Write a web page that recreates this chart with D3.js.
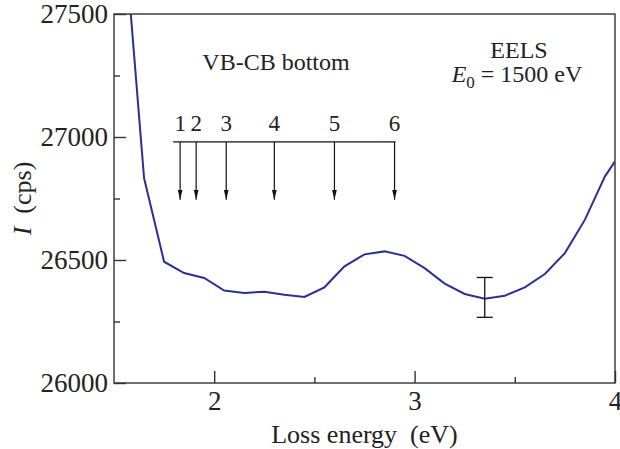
<!DOCTYPE html>
<html>
<head>
<meta charset="utf-8">
<script src="https://cdn.jsdelivr.net/npm/d3@7.9.0/dist/d3.min.js"></script>
<style>
  body { margin: 0; background: #fff; }
  svg text { font-family: 'Liberation Serif', 'Times New Roman', serif; fill: #222; white-space: pre; }
</style>
</head>
<body>
<div id="chart"></div>
<script>
// EELS spectrum
const energies = [1.55, 1.65, 1.75, 1.85, 1.95, 2.05, 2.15, 2.25, 2.35, 2.45, 2.55, 2.65, 2.75,
    2.85, 2.95, 3.05, 3.15, 3.25, 3.35, 3.45, 3.55, 3.65, 3.75, 3.85, 3.95, 4.0];
const counts = [27840, 26833, 26493, 26447, 26427, 26376, 26366, 26371, 26359, 26350, 26389, 26474, 26523,
    26535, 26517, 26467, 26404, 26362, 26343, 26355, 26389, 26443, 26528, 26664, 26840, 26901];

// VB-CB bottom markers
const markerEnergies = [1.83, 1.91, 2.06, 2.30, 2.60, 2.90];
const markerLabels = ['1', '2', '3', '4', '5', '6'];

// error bar
const errEnergy = 3.35;
const errCenter = 26348;
const errHalf = 81;

const xTicks = [2, 3, 4];
const xMinor = [2.5, 3.5];
const yTicks = [26000, 26500, 27000, 27500];
const yMinor = [26250, 26750, 27250];

const width = 620;
const height = 449;
const margin = { top: 14, right: 5, bottom: 66, left: 114 };
const serif = "'Liberation Serif', 'Times New Roman', serif";

const xScale = d3.scaleLinear().domain([1.5, 4]).range([margin.left, width - margin.right]);
const yScale = d3.scaleLinear().domain([26000, 27500]).range([height - margin.bottom, margin.top]);

const svg = d3.select('#chart').append('svg')
    .attr('width', width)
    .attr('height', height);

svg.append('defs').append('clipPath').attr('id', 'plot-clip')
    .append('rect')
    .attr('x', xScale(1.5)).attr('y', yScale(27500))
    .attr('width', xScale(4) - xScale(1.5))
    .attr('height', yScale(26000) - yScale(27500));

svg.append('defs').append('marker')
    .attr('id', 'arrowhead')
    .attr('viewBox', '0 0 10 10')
    .attr('refX', 10).attr('refY', 5)
    .attr('markerWidth', 10).attr('markerHeight', 10)
    .attr('markerUnits', 'userSpaceOnUse')
    .attr('orient', 'auto')
    .append('path')
    .attr('d', 'M0,2.6 L10,5 L0,7.4 Z')
    .attr('fill', '#111');

const axisColor = '#333';

// axes (ticks point inward)
const yAxis = d3.axisLeft(yScale).tickValues(yTicks).tickSize(-12).tickPadding(6)
    .tickFormat(d3.format('d'));
const yAxisMinor = d3.axisLeft(yScale).tickValues(yMinor).tickSize(-6).tickFormat('');
const xAxis = d3.axisBottom(xScale).tickValues(xTicks).tickSize(-12).tickPadding(8)
    .tickFormat(d3.format('d'));
const xAxisMinor = d3.axisBottom(xScale).tickValues(xMinor).tickSize(-6).tickFormat('');

function styleAxis(g) {
    g.attr('font-family', serif).attr('font-size', 27);
    g.select('.domain').remove();
    g.selectAll('line').attr('stroke', axisColor).attr('stroke-width', 1.4);
    g.selectAll('text').attr('fill', '#222').style('font-family', serif);
}

svg.append('g').attr('transform', `translate(${margin.left},0)`).call(yAxis).call(styleAxis);
svg.append('g').attr('transform', `translate(${margin.left},0)`).call(yAxisMinor).call(styleAxis);
svg.append('g').attr('transform', `translate(0,${height - margin.bottom})`).call(xAxis).call(styleAxis);
svg.append('g').attr('transform', `translate(0,${height - margin.bottom})`).call(xAxisMinor).call(styleAxis);

// frame
svg.append('rect')
    .attr('x', xScale(1.5)).attr('y', yScale(27500))
    .attr('width', xScale(4) - xScale(1.5))
    .attr('height', yScale(26000) - yScale(27500))
    .attr('fill', 'none')
    .attr('stroke', axisColor)
    .attr('stroke-width', 1.4);

// spectrum
const line = d3.line()
    .x((d, i) => xScale(energies[i]))
    .y((d) => yScale(d));

svg.append('path')
    .datum(counts)
    .attr('clip-path', 'url(#plot-clip)')
    .attr('d', line)
    .attr('fill', 'none')
    .attr('stroke', '#2c3094')
    .attr('stroke-width', 2);

// error bar
const eb = svg.append('g').attr('stroke', '#111').attr('stroke-width', 1.3);
eb.append('line')
    .attr('x1', xScale(errEnergy)).attr('x2', xScale(errEnergy))
    .attr('y1', yScale(errCenter + errHalf)).attr('y2', yScale(errCenter - errHalf));
[errCenter + errHalf, errCenter - errHalf].forEach((v) => {
    eb.append('line')
        .attr('x1', xScale(errEnergy) - 8).attr('x2', xScale(errEnergy) + 8)
        .attr('y1', yScale(v)).attr('y2', yScale(v));
});

// VB-CB bottom markers
const barLevel = 26980;
const tipLevel = 26745;
const markers = svg.append('g');
markers.append('line')
    .attr('x1', xScale(markerEnergies[0]) - 7)
    .attr('x2', xScale(markerEnergies[markerEnergies.length - 1]) + 1)
    .attr('y1', yScale(barLevel)).attr('y2', yScale(barLevel))
    .attr('stroke', '#111').attr('stroke-width', 1.3);
markers.selectAll('line.arrow')
    .data(markerEnergies)
    .join('line')
    .attr('class', 'arrow')
    .attr('x1', (d) => xScale(d)).attr('x2', (d) => xScale(d))
    .attr('y1', yScale(barLevel)).attr('y2', yScale(tipLevel))
    .attr('stroke', '#111').attr('stroke-width', 1.2)
    .attr('marker-end', 'url(#arrowhead)');
markers.selectAll('text')
    .data(markerEnergies)
    .join('text')
    .attr('x', (d) => xScale(d))
    .attr('y', yScale(barLevel) - 11)
    .attr('text-anchor', 'middle')
    .attr('font-size', 23)
    .text((d, i) => markerLabels[i]);

svg.append('text')
    .attr('x', 276).attr('y', 70)
    .attr('text-anchor', 'middle')
    .attr('font-size', 24)
    .text('VB-CB bottom');

svg.append('text')
    .attr('x', 519).attr('y', 58)
    .attr('text-anchor', 'middle')
    .attr('font-size', 24)
    .text('EELS');

const e0 = svg.append('text')
    .attr('x', 517).attr('y', 82)
    .attr('text-anchor', 'middle')
    .attr('font-size', 24);
e0.append('tspan').attr('font-style', 'italic').text('E');
e0.append('tspan').attr('font-size', 17).attr('dy', 6).text('0');
e0.append('tspan').attr('dy', -6).text(' = 1500 eV');

// axis titles
svg.append('text')
    .attr('x', xScale(2.75)).attr('y', 443)
    .attr('text-anchor', 'middle')
    .attr('font-size', 26)
    .text('Loss energy  (eV)');

const yTitle = svg.append('text')
    .attr('transform', `translate(31, ${yScale(26750)}) rotate(-90)`)
    .attr('text-anchor', 'middle')
    .attr('font-size', 26);
yTitle.append('tspan').attr('font-style', 'italic').text('I');
yTitle.append('tspan').text('  (cps)');
</script>
</body>
</html>
